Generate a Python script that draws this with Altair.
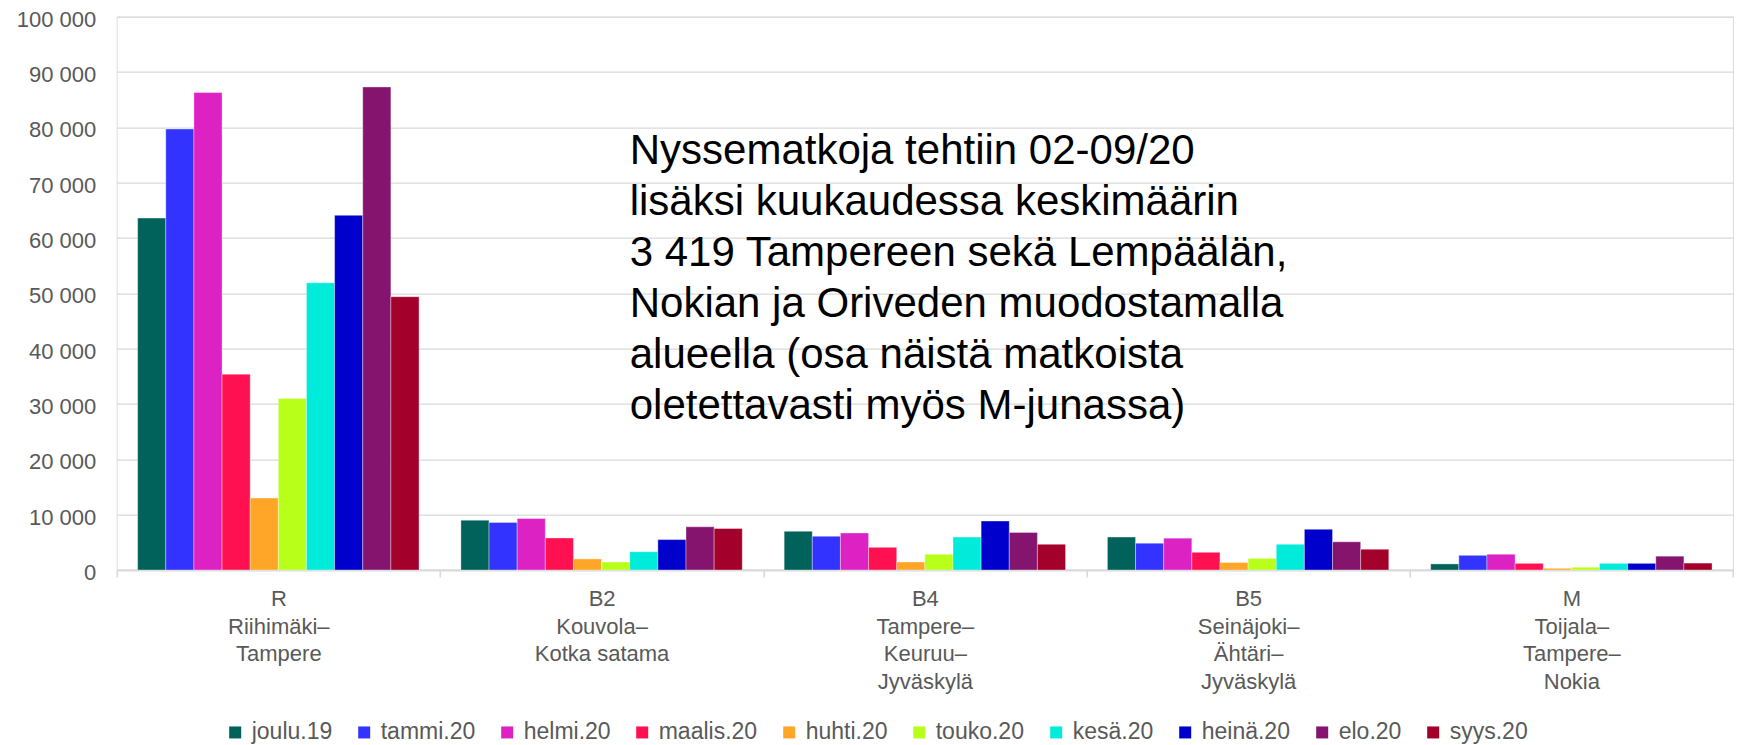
import altair as alt
import pandas as pd

FONT = "Liberation Sans, Arial, Helvetica, sans-serif"

routes = [
    "R|Riihimäki–|Tampere",
    "B2|Kouvola–|Kotka satama",
    "B4|Tampere–|Keuruu–|Jyväskylä",
    "B5|Seinäjoki–|Ähtäri–|Jyväskylä",
    "M|Toijala–|Tampere–|Nokia",
]
months = ["joulu.19", "tammi.20", "helmi.20", "maalis.20", "huhti.20",
          "touko.20", "kesä.20", "heinä.20", "elo.20", "syys.20"]
colors = ["#00625A", "#3333FF", "#DD22C4", "#FF1050", "#FFA528",
          "#B8FF1A", "#00EBDA", "#0000CC", "#85146F", "#A3002C"]

r_vals = [63600, 79700, 86300, 35400, 13000, 31000, 51900, 64100, 87300, 49400]
b2_vals = [9000, 8600, 9300, 5800, 2000, 1450, 3300, 5500, 7800, 7500]
b4_vals = [7000, 6100, 6700, 4100, 1450, 2850, 5950, 8850, 6800, 4650]
b5_vals = [5950, 4850, 5750, 3200, 1350, 2100, 4650, 7350, 5100, 3750]
m_vals = [1100, 2650, 2850, 1200, 300, 500, 1200, 1200, 2500, 1250]

note_lines = [
    "Nyssematkoja tehtiin 02-09/20",
    "lisäksi kuukaudessa keskimäärin",
    "3 419 Tampereen sekä Lempäälän,",
    "Nokian ja Oriveden muodostamalla",
    "alueella (osa näistä matkoista",
    "oletettavasti myös M-junassa)",
]

y_ticks = [0, 10000, 20000, 30000, 40000, 50000, 60000, 70000, 80000, 90000, 100000]

series = [r_vals, b2_vals, b4_vals, b5_vals, m_vals]
rows = []
for route, vals in zip(routes, series):
    for m, v in zip(months, vals):
        rows.append({"route": route, "month": m, "value": v})
df = pd.DataFrame(rows)

bars = alt.Chart(df).mark_bar(stroke="white", strokeWidth=0.6, strokeOpacity=0.6).encode(
    x=alt.X(
        "route:N", sort=routes,
        scale=alt.Scale(paddingInner=0, paddingOuter=0),
        axis=alt.Axis(
            title=None, labelAngle=0, labelExpr="split(datum.label, '|')",
            tickBand="extent", ticks=True, tickSize=7, tickColor="#d9d9d9", tickWidth=1.5,
            domainColor="#d9d9d9", domainWidth=1.8, grid=False,
            labelFontSize=22, labelLineHeight=27.5, labelPadding=11.5,
            labelColor="#595959", labelFont=FONT,
        ),
    ),
    xOffset=alt.XOffset("month:N", sort=months,
                        scale=alt.Scale(paddingInner=0, paddingOuter=0.744)),
    y=alt.Y(
        "value:Q",
        scale=alt.Scale(domain=[0, 100000], nice=False),
        axis=alt.Axis(
            title=None, values=y_ticks,
            labelExpr="replace(format(datum.value, ','), ',', ' ')",
            grid=True, gridColor="#d9d9d9", gridWidth=1.3,
            domain=False, ticks=False, labelPadding=21, labelOffset=2.5,
            labelFontSize=22, labelColor="#595959", labelFont=FONT,
        ),
    ),
    color=alt.Color(
        "month:N", sort=months,
        scale=alt.Scale(domain=months, range=colors),
        legend=alt.Legend(
            title=None, orient="none", legendX=107, legendY=704,
            direction="horizontal", columns=10,
            symbolType="square", symbolSize=144, symbolStrokeWidth=0,
            labelFontSize=23, labelColor="#595959", labelFont=FONT,
            labelOffset=5, columnPadding=20, padding=0,
        ),
    ),
)

note = alt.Chart(pd.DataFrame({"k": [0]})).mark_text(
    align="left", baseline="alphabetic", fontSize=42, lineHeight=51,
    font=FONT, color="#000000",
).encode(
    x=alt.value(513), y=alt.value(147), text=alt.value(note_lines)
)

chart = alt.layer(bars, note).properties(
    width=1616.3, height=553.3,
    autosize=alt.AutoSizeParams(type="none"),
    padding={"left": 108.7, "top": 8.7, "right": 1, "bottom": 175},
).configure_view(stroke=None).configure(font=FONT)

chart.save("out.html", embed_options={"renderer": "svg", "actions": False})
